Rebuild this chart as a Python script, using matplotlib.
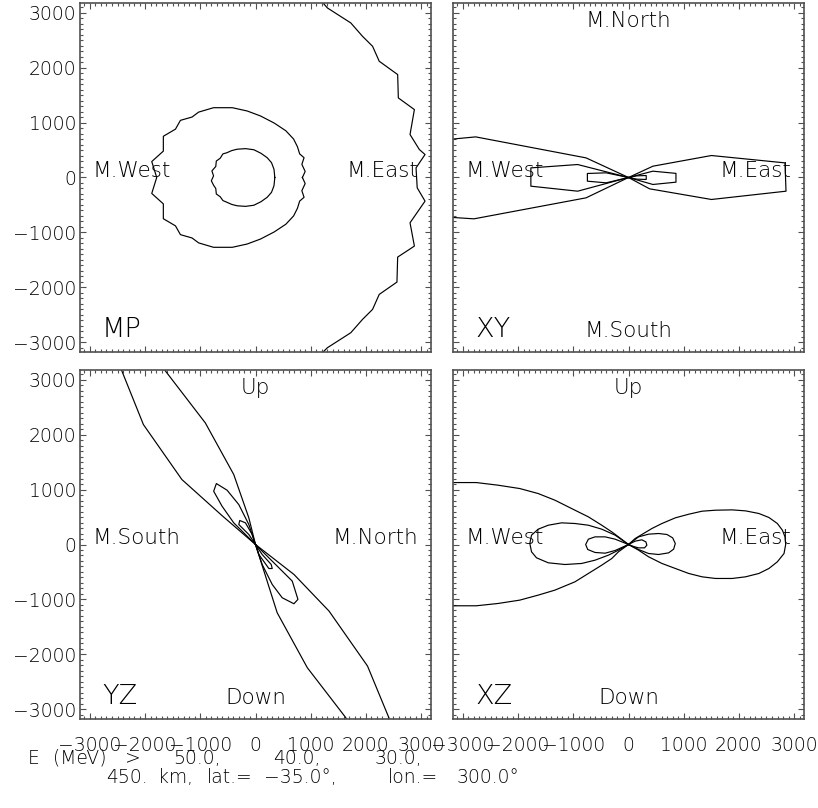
import matplotlib
matplotlib.use('Agg')
from matplotlib import pyplot as plt
from matplotlib.ticker import MultipleLocator

# contour levels (MeV) and observation point
energies = [50.0, 40.0, 30.0]
altitude = 450.
lat = -35.0
lon = 300.0

# MP plane
mp_50_x = [350, 335, 290, 212, 100, -30, -180, -330, -430, -520, -590, -640, -710, -720, -790, -760,
           -800, -760, -720, -710, -640, -590, -520, -430, -330, -180, -30, 100, 212, 290, 335, 350]
mp_50_y = [0, 150, 270, 360, 440, 505, 525, 515, 490, 450, 430, 350, 300, 200, 120, 30,
           -60, -140, -200, -300, -350, -420, -450, -490, -515, -525, -505, -440, -360, -270, -150, 0]
mp_40_x = [850, 900, 840, 880, 800, 760, 690, 550, 340, 90, -150, -420, -760, -1030, -1150, -1360,
           -1450, -1670, -1670, -1880, -1790, -1880, -1670, -1670, -1450, -1360, -1150, -1030, -760,
           -420, -150, 90, 340, 550, 690, 760, 800, 880, 840, 900, 850]
mp_40_y = [0, 110, 240, 360, 430, 560, 700, 850, 990, 1120, 1210, 1270, 1270, 1190, 1100, 1040,
           880, 750, 480, 290, 0, -290, -480, -750, -880, -1040, -1100, -1190, -1270,
           -1270, -1210, -1120, -990, -850, -700, -560, -430, -360, -240, -110, 0]
mp_30_x = [900, 1212, 1303, 1727, 1939, 2121, 2242, 2576, 2588, 2879, 2800, 2969, 3072, 2909, 2930,
           3072, 2800, 2879, 2576, 2563, 2242, 2121, 1939, 1727, 1303, 1212, 900]
mp_30_y = [3500, 3188, 3085, 2812, 2569, 2388, 2115, 1873, 1448, 1236, 782, 509, 418, 176, -188,
           -430, -824, -1248, -1448, -1903, -2127, -2400, -2582, -2824, -3097, -3188, -3500]

# XY plane
xy_50_x = [0, 150, 321, 321, 150, 0, -406, -745, -745, -406, 0]
xy_50_y = [0, 30, 36, -36, -30, 0, -97, -67, 73, 85, 0]
xy_40_x = [0, 442, 860, 860, 442, 0, -921, -1769, -1769, -921, 0]
xy_40_y = [0, 115, 75, -85, -127, 0, -249, -158, 175, 236, 0]
xy_30_x = [0, 443, 1503, 2836, 2854, 1503, 382, 0, -769, -2800, -3600, -3600, -2769, -769, 0]
xy_30_y = [0, 206, 400, 266, -249, -400, -206, 0, -370, -752, -700, 660, 739, 357, 0]

# YZ plane
yz_50_x = [0, -61, -182, -285, -303, -121, 0, 61, 242, 303, 285, 121, 0]
yz_50_y = [0, 182, 394, 437, 364, 182, 0, -182, -437, -437, -364, -182, 0]
yz_40_x = [0, -121, -303, -515, -709, -758, -606, -394, 0, 121, 303, 484, 696, 769, 666, 394, 0]
yz_40_y = [0, 364, 727, 988, 1109, 969, 697, 394, 0, -364, -727, -969, -1078, -999, -666, -394, 0]
yz_30_x = [0, -121, -394, -909, -1637, -1800, -2600, -2424, -2031, -1334, -600, 0,
           393, 939, 1636, 1800, 2600, 2424, 2030, 1333, 697, 0]
yz_30_y = [0, 485, 1273, 2212, 3164, 3500, 3500, 3164, 2182, 1182, 520, 0,
           -1242, -2242, -3151, -3500, -3500, -3169, -2212, -1212, -545, 0]

# XZ plane
xz_50_x = [0, 121, 242, 315, 333, 291, 182, 91, 0, -242, -424, -606, -727, -776, -739, -606, -424, -242, 0]
xz_50_y = [0, 61, 85, 48, -12, -61, -61, -36, 0, 97, 139, 139, 97, 0, -91, -145, -158, -109, 0]
xz_40_x = [0, 182, 364, 545, 697, 800, 848, 818, 727, 545, 364, 182, 0,
           -242, -485, -727, -970, -1212, -1454, -1636, -1757, -1788, -1757, -1667, -1454, -1151,
           -848, -606, -364, -182, 0]
xz_40_y = [0, 139, 188, 200, 182, 121, 18, -85, -152, -182, -164, -91, 0,
           170, 279, 351, 382, 394, 351, 279, 170, 18, -133, -242, -333, -364,
           -345, -285, -194, -103, 0]
xz_30_x = [0, 121, 273, 424, 606, 848, 1091, 1333, 1576, 1879, 2121, 2363, 2545, 2697, 2788, 2836,
           2848, 2818, 2697, 2545, 2363, 2121, 1879, 1576, 1333, 1091, 848, 606, 364, 182, 0,
           -182, -303, -485, -727, -970, -1333, -1636, -1970, -2363, -2757, -3212, -3500, -3800,
           -3500, -3212, -2757, -2363, -1970, -1636, -1333, -970, -727, -485, -303, -182, 0]
xz_30_y = [0, 109, 200, 291, 382, 485, 551, 606, 624, 630, 612, 564, 491, 382, 261, 139,
           0, -164, -315, -436, -527, -588, -618, -618, -588, -527, -436, -345, -224, -103, 0,
           -133, -255, -376, -527, -679, -830, -921, -1012, -1073, -1115, -1115, -1050, 0,
           1050, 1127, 1127, 1079, 1018, 927, 806, 624, 503, 351, 230, 139, 0]

panels = [
    ('MP', [(mp_50_x, mp_50_y), (mp_40_x, mp_40_y), (mp_30_x, mp_30_y)],
     'M.West', 'M.East', None, None),
    ('XY', [(xy_50_x, xy_50_y), (xy_40_x, xy_40_y), (xy_30_x, xy_30_y)],
     'M.West', 'M.East', 'M.North', 'M.South'),
    ('YZ', [(yz_50_x, yz_50_y), (yz_40_x, yz_40_y), (yz_30_x, yz_30_y)],
     'M.South', 'M.North', 'Up', 'Down'),
    ('XZ', [(xz_50_x, xz_50_y), (xz_40_x, xz_40_y), (xz_30_x, xz_30_y)],
     'M.West', 'M.East', 'Up', 'Down'),
]

W, H = 818, 808
boxes = [(80, 3), (453, 3), (80, 370), (453, 370)]
pw, ph = 351, 349
frame = '#505050'

plt.rcParams['font.weight'] = 'light'

fig = plt.figure(figsize=(W / 100, H / 100), dpi=100)

for i, (name, curves, left, right, top, bottom) in enumerate(panels):
    x0, y0 = boxes[i]
    ax = fig.add_axes([x0 / W, 1 - (y0 + ph) / H, pw / W, ph / H])
    for cx, cy in curves:
        ax.plot(cx, cy, color='black', lw=0.85)
    ax.set_xlim(-3180, 3180)
    ax.set_ylim(-3175, 3175)
    ax.xaxis.set_major_locator(MultipleLocator(1000))
    ax.yaxis.set_major_locator(MultipleLocator(1000))
    ax.xaxis.set_minor_locator(MultipleLocator(100))
    ax.yaxis.set_minor_locator(MultipleLocator(100))
    ax.tick_params(which='both', direction='in', top=True, right=True, color=frame, width=0.8)
    ax.tick_params(which='major', length=4.5)
    ax.tick_params(which='minor', length=2.2)
    ax.tick_params(axis='y', labelsize=13.5, pad=2.5, labelleft=(i % 2 == 0))
    ax.tick_params(axis='x', labelsize=13.5, pad=12, labelbottom=(i >= 2))
    for s in ax.spines.values():
        s.set_color(frame)
        s.set_linewidth(1.2)

    ax.text(-2960, 0, left, fontsize=15.5, ha='left', va='baseline')
    ax.text(2950, 0, right, fontsize=15.5, ha='right', va='baseline')
    if top:
        ax.text(0, 2730, top, fontsize=15.5, ha='center', va='baseline')
    if bottom:
        ax.text(0, -2910, bottom, fontsize=15.5, ha='center', va='baseline')
    ax.text(-2780, -2900, name, fontsize=19.5, ha='left', va='baseline')

# energy line, pieces spread out like the stroke font
line1 = [('E', 28), ('(MeV)', 53), ('>', 125)]
line1 += [('%.1f,' % e, px) for e, px in zip(energies, [173, 273, 375])]
for s, px in line1:
    fig.text(px / W, 1 - 764 / H, s, fontsize=13.5, va='baseline')

# location line
line2 = [('%.0f.' % altitude, 106), ('km,', 158), ('lat.=', 207),
         ('\u2212%.1f\u00b0,' % abs(lat), 264), ('lon.=', 388), ('%.1f\u00b0' % lon, 457)]
for s, px in line2:
    fig.text(px / W, 1 - 783 / H, s, fontsize=13.5, va='baseline')

plt.savefig('out.png', dpi=100)
